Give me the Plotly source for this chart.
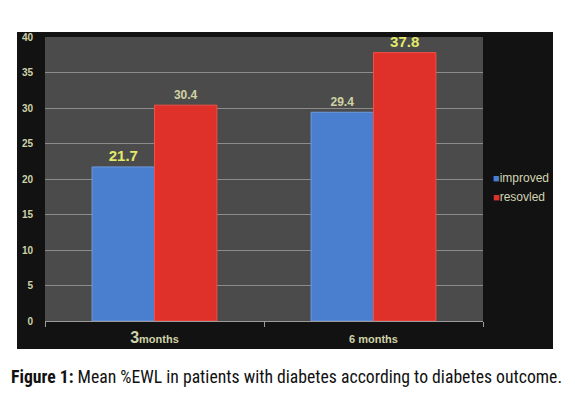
import plotly.graph_objects as go

categories = ["3 months", "6 months"]
category_labels = ["<b><span style='font-size:16px'>3</span>months</b>", "<b>6 months</b>"]
improved = [21.7, 29.4]
resolved = [30.4, 37.8]
series_names = ["improved", "resovled"]
series_colors = ["#4a7fd0", "#e0302a"]
y_ticks = [0, 5, 10, 15, 20, 25, 30, 35, 40]

W, H = 575, 397
L, R, T, B = 45, 92, 37, 76
PW, PH = W - L - R, H - T - B

fig = go.Figure()
fig.add_trace(go.Bar(
    x=categories, y=improved, name=series_names[0], showlegend=False,
    marker=dict(color=series_colors[0], line=dict(color="#6f9be0", width=1)),
    text=[f"<b>{v:.1f}</b>" for v in improved], textposition="outside",
    textfont=dict(family="Liberation Sans, Arial", size=[15, 12], color=["#e3ea6a", "#cfd3a4"]),
    cliponaxis=False,
))
fig.add_trace(go.Bar(
    x=categories, y=resolved, name=series_names[1], showlegend=False,
    marker=dict(color=series_colors[1], line=dict(color="#f05048", width=1)),
    text=[f"<b>{v:.1f}</b>" for v in resolved], textposition="outside",
    textfont=dict(family="Liberation Sans, Arial", size=[12, 15], color=["#cfd3a4", "#e3ea6a"]),
    cliponaxis=False,
))
# legend entries: small coloured square glyph right next to the name
for name, col in zip(series_names, series_colors):
    fig.add_trace(go.Scatter(
        x=[None], y=[None], mode="markers",
        name=f"<span style='color:{col};font-size:11px'>■</span>{name}",
        marker=dict(symbol="square", size=1, color="rgba(0,0,0,0)")))

# black panel behind the chart
fig.add_shape(type="rect", xref="paper", yref="paper",
              x0=-(L - 17) / PW, x1=(553 - L) / PW,
              y0=-(349 - (H - B)) / PH, y1=(PH + (T - 32)) / PH,
              fillcolor="#121212", line=dict(width=0), layer="below")
# gray plot area
fig.add_shape(type="rect", xref="paper", yref="paper", x0=0, x1=1, y0=0, y1=1,
              fillcolor="#4b4b4b", line=dict(width=0), layer="below")

fig.add_annotation(
    text="<b>Figure 1:</b> Mean %EWL in patients with diabetes according to diabetes outcome.",
    xref="paper", yref="paper", x=(286 - L) / PW, y=-(377 - (H - B)) / PH,
    xanchor="center", yanchor="middle", showarrow=False,
    font=dict(family="Liberation Sans Narrow, Roboto Condensed, Arial Narrow, sans-serif", size=17.7, color="#111111"),
)

fig.update_layout(
    width=W, height=H, autosize=False,
    margin=dict(l=L, r=R, t=T, b=B, autoexpand=False),
    paper_bgcolor="white", plot_bgcolor="#4b4b4b",
    barmode="group", bargap=0.43, bargroupgap=0,
    showlegend=True,
    legend=dict(x=(453 - L) / PW, y=(H - B - 187) / PH, xanchor="left", yanchor="middle",
                bgcolor="rgba(0,0,0,0)", font=dict(family="Liberation Sans Narrow, Arial", size=12, color="#d2d4b0"),
                itemwidth=30, tracegroupgap=0),
    font=dict(family="Liberation Sans, Arial"),
)
fig.update_yaxes(range=[0, 40], tickvals=y_ticks, ticktext=[f"<b>{t}</b>" for t in y_ticks],
                 showgrid=True, gridcolor="#8c8c8c", gridwidth=1, automargin=False,
                 zeroline=False, tickfont=dict(size=10, color="#cfd2a8"), ticks="outside", ticklen=9,
                 tickcolor="rgba(0,0,0,0)", showline=False)
fig.update_xaxes(tickvals=categories, ticktext=category_labels, showline=True, linecolor="#9a9a9a",
                 tickfont=dict(size=11, color="#cfd2a8"), tickson="boundaries", ticks="outside",
                 ticklen=5, tickcolor="#9a9a9a", ticklabelstandoff=8, automargin=False)

fig.write_html("out.html", config={"displayModeBar": False},
               post_script="document.body.style.margin='0';")
